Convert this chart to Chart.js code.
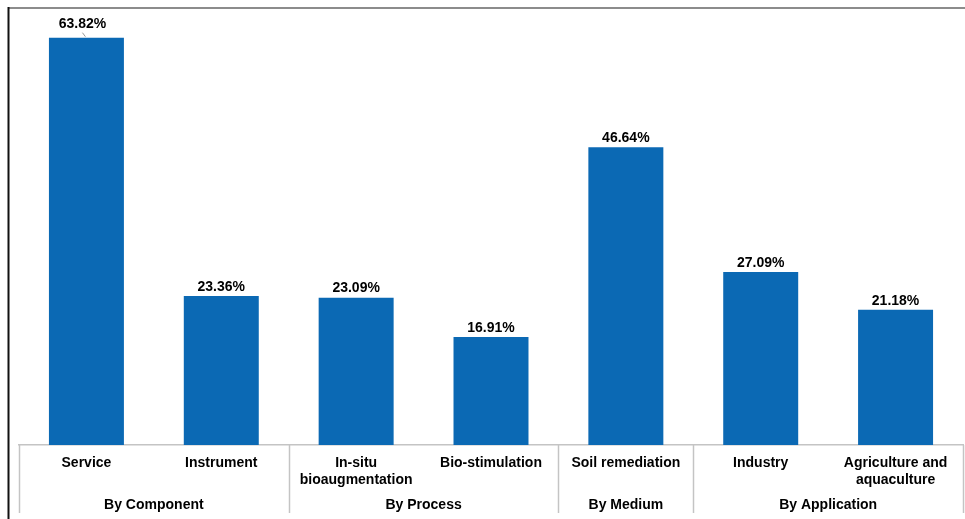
<!DOCTYPE html>
<html>
<head>
<meta charset="utf-8">
<script src="https://cdn.jsdelivr.net/npm/chart.js@4/dist/chart.umd.min.js"></script>
<style>
  html, body { margin: 0; padding: 0; background: #fff; }
  #wrap { width: 965px; height: 519px; position: relative; }
</style>
</head>
<body>
<div id="wrap"><canvas id="c" width="965" height="519"></canvas></div>
<script>
// ---- data ----
const categories = [
  "Service",
  "Instrument",
  ["In-situ", "bioaugmentation"],
  "Bio-stimulation",
  "Soil remediation",
  "Industry",
  ["Agriculture and", "aquaculture"]
];
const shares = [63.82, 23.36, 23.09, 16.91, 46.64, 27.09, 21.18];
const groupNames = ["By Component", "By Process", "By Medium", "By Application"];
const groupSizes = [2, 2, 1, 2];

const FONT = "'Liberation Sans', Arial, sans-serif";
const BAR_COLOR = "#0B69B4";

const framePlugin = {
  id: 'frame',
  beforeDraw(chart) {
    const ctx = chart.ctx;
    ctx.save();
    ctx.fillStyle = '#fff';
    ctx.fillRect(0, 0, chart.width, chart.height);
    ctx.strokeStyle = '#8c8c8c';
    ctx.lineWidth = 2;
    ctx.beginPath();
    ctx.moveTo(8, 8);
    ctx.lineTo(chart.width, 8);
    ctx.stroke();
    ctx.strokeStyle = '#111';
    ctx.lineWidth = 2;
    ctx.beginPath();
    ctx.moveTo(8.5, 7);
    ctx.lineTo(8.5, chart.height);
    ctx.stroke();
    ctx.restore();
  }
};

const labelsPlugin = {
  id: 'valueLabels',
  afterDatasetsDraw(chart) {
    const ctx = chart.ctx;
    const meta = chart.getDatasetMeta(0);
    ctx.save();
    ctx.font = "bold 14px " + FONT;
    ctx.fillStyle = '#000';
    ctx.textAlign = 'center';
    ctx.textBaseline = 'middle';
    meta.data.forEach((bar, i) => {
      const v = shares[i];
      const txt = v.toFixed(2) + '%';
      if (i === 0) {
        ctx.fillText(txt, bar.x - 4, bar.y - 14);
        ctx.strokeStyle = '#999';
        ctx.lineWidth = 1;
        ctx.beginPath();
        ctx.moveTo(bar.x - 4, bar.y - 5);
        ctx.lineTo(bar.x - 1, bar.y - 1);
        ctx.stroke();
      } else {
        ctx.fillText(txt, bar.x, bar.y - 9);
      }
    });
    ctx.restore();
  }
};

const groupPlugin = {
  id: 'groups',
  afterDraw(chart) {
    const ctx = chart.ctx;
    const xs = chart.scales.x;
    const area = chart.chartArea;
    const step = (xs.right - xs.left) / categories.length;
    ctx.save();
    ctx.strokeStyle = '#c4c4c4';
    ctx.lineWidth = 1.5;
    const bounds = [0];
    let acc = 0;
    groupSizes.forEach(s => { acc += s; bounds.push(acc); });
    bounds.forEach(b => {
      const px = xs.getPixelForValue(Math.min(b, categories.length - 1)) + (b >= categories.length ? step / 2 : -step / 2);
      ctx.beginPath();
      ctx.moveTo(Math.round(px) + 0.5, area.bottom);
      ctx.lineTo(Math.round(px) + 0.5, 513);
      ctx.stroke();
    });
    ctx.font = "bold 14px " + FONT;
    ctx.fillStyle = '#000';
    ctx.textAlign = 'center';
    ctx.textBaseline = 'middle';
    groupNames.forEach((g, k) => {
      const a = xs.getPixelForValue(bounds[k]) - step / 2;
      const b = xs.getPixelForValue(bounds[k + 1] - 1) + step / 2;
      ctx.fillText(g, (a + b) / 2, 505);
    });
    ctx.restore();
  }
};

new Chart(document.getElementById('c'), {
  type: 'bar',
  data: {
    labels: categories,
    datasets: [{
      data: shares,
      backgroundColor: BAR_COLOR,
      borderWidth: 0,
      categoryPercentage: 1.0,
      barPercentage: 0.556
    }]
  },
  options: {
    responsive: false,
    animation: false,
    devicePixelRatio: 1,
    layout: { padding: { left: 19, right: 2, top: 11, bottom: 0 } },
    plugins: {
      legend: { display: false },
      tooltip: { enabled: false },
      title: { display: false }
    },
    scales: {
      y: {
        display: false,
        min: 0,
        max: 68
      },
      x: {
        grid: { display: false, drawTicks: false },
        border: { display: true, color: '#c4c4c4', width: 1.5 },
        ticks: {
          color: '#000',
          font: { family: FONT, size: 14, weight: 'bold', lineHeight: 1.2 },
          padding: 10,
          maxRotation: 0,
          autoSkip: false
        },
        afterFit(scale) { scale.height = 74; }
      }
    }
  },
  plugins: [framePlugin, labelsPlugin, groupPlugin]
});
</script>
</body>
</html>
